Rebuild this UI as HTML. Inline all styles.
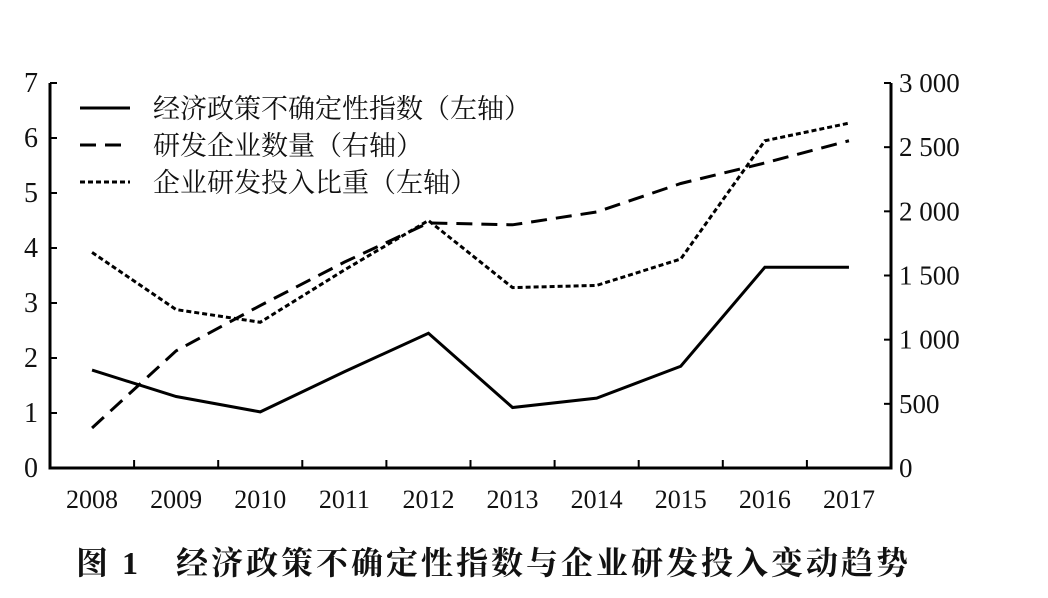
<!DOCTYPE html>
<html><head><meta charset="utf-8"><style>
body{margin:0;background:#fff;width:1048px;height:593px;overflow:hidden}
svg text{font-family:"Liberation Serif","Noto Serif CJK SC",serif;fill:#111}
</style></head><body>
<svg id="c" width="1048" height="593"></svg>
<script>
const categories=["2008","2009","2010","2011","2012","2013","2014","2015","2016","2017"];
const epuValues=[1.78,1.3,1.02,1.75,2.45,1.1,1.27,1.85,3.65,3.65];
const firmCounts=[312,913,1266,1604,1910,1895,1995,2217,2377,2550];
const rdShare=[3.92,2.88,2.65,3.6,4.5,3.28,3.32,3.8,5.95,6.27];
const leftTicks=[0,1,2,3,4,5,6,7];
const rightTicks=[0,500,1000,1500,2000,2500,3000];
const rightTickLabels=["0","500","1 000","1 500","2 000","2 500","3 000"];
const NS="http://www.w3.org/2000/svg",svg=document.getElementById('c');
const L=50,R=891,T=83,B=468;
const x=i=>L+(R-L)/categories.length*(i+0.5);
const yl=v=>B-(B-T)*v/7;
const yr=v=>B-(B-T)*v/3000;
function mk(t,a,p){const e=document.createElementNS(NS,t);for(const k in a)e.setAttribute(k,a[k]);(p||svg).appendChild(e);return e;}
const ax=mk('g',{});


mk('path',{d:`M${L},${T}V${B}H${R}V${T}`,fill:'none',stroke:'#000','stroke-width':3},ax);
leftTicks.forEach(v=>{mk('line',{x1:L,x2:L+7,y1:yl(v),y2:yl(v),stroke:'#000','stroke-width':2},ax);
const t=mk('text',{x:L-12,y:yl(v)+9,'font-size':28,'text-anchor':'end'},ax);t.textContent=v;

});
rightTicks.forEach((v,i)=>{mk('line',{x1:R-7,x2:R,y1:yr(v),y2:yr(v),stroke:'#000','stroke-width':2},ax);
const t=mk('text',{x:R+8,y:yr(v)+9,'font-size':27},ax);t.textContent=rightTickLabels[i];

});
categories.forEach((c,i)=>{if(i>0){const bx=L+(R-L)/categories.length*i;mk('line',{x1:bx,x2:bx,y1:B,y2:B-8,stroke:'#000','stroke-width':2},ax);}
const t=mk('text',{x:x(i),y:508,'font-size':26,'text-anchor':'middle'},ax);t.textContent=c;

});
function line(vals,yf,dash,w,name){const p=mk('polyline',{points:vals.map((v,i)=>x(i)+','+yf(v)).join(' '),fill:'none',stroke:'#000','stroke-width':w,'stroke-dasharray':dash});

}
line(epuValues,yl,'none',3,'epu-line');
line(firmCounts,yr,'16 9',3,'firm-count-line');
line(rdShare,yl,'5 3',3,'rd-share-line');
const leg=[['none','经济政策不确定性指数（左轴）'],['16 9','研发企业数量（右轴）'],['5 3','企业研发投入比重（左轴）']];
leg.forEach((l,i)=>{const g=mk('g',{});


const y=108+i*37;mk('line',{x1:80,x2:130,y1:y,y2:y,stroke:'#000','stroke-width':3,'stroke-dasharray':l[0]},g);
const t=mk('text',{x:153,y:y+10,'font-size':27},g);t.textContent=l[1];});
const cap=mk('text',{x:76,y:574,'font-size':32,'font-weight':'bold','letter-spacing':3});
cap.textContent='图 1　经济政策不确定性指数与企业研发投入变动趋势';


</script>
</body></html>
